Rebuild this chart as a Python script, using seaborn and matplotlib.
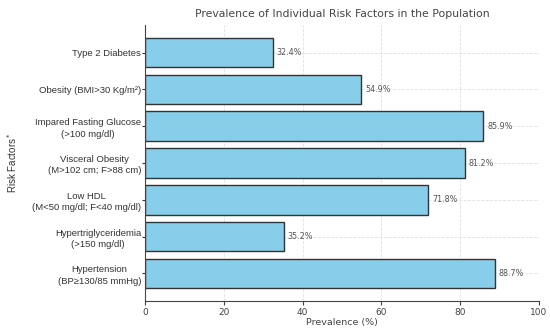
import matplotlib
matplotlib.use("Agg")
import matplotlib.pyplot as plt
import seaborn as sns
import pandas as pd

categories = [
    "Type 2 Diabetes",
    "Obesity (BMI>30 Kg/m²)",
    "Impared Fasting Glucose\n(>100 mg/dl)",
    "Visceral Obesity\n(M>102 cm; F>88 cm)",
    "Low HDL\n(M<50 mg/dl; F<40 mg/dl)",
    "Hypertriglyceridemia\n(>150 mg/dl)",
    "Hypertension\n(BP≥130/85 mmHg)",
]
prevalence = [32.4, 54.9, 85.9, 81.2, 71.8, 35.2, 88.7]
xticks = [0, 20, 40, 60, 80, 100]

df = pd.DataFrame({"factor": categories, "value": prevalence})

sns.set_theme(style="white")
plt.rcParams["font.family"] = ["DejaVu Sans"]

fig = plt.figure(figsize=(5.5, 3.29), dpi=100)
ax = fig.add_axes([0.264, 0.085, 0.716, 0.839])

sns.barplot(data=df, x="value", y="factor", color="#87CEEB", saturation=1,
            edgecolor="#333333", linewidth=1.0, width=0.8, ax=ax, zorder=2)

ax.grid(True, axis="both", linestyle="--", color="#e0e0e0", linewidth=0.6, zorder=0)
ax.set_axisbelow(True)

for i, v in enumerate(prevalence):
    ax.text(v + 1.0, i, f"{v}%", va="center", ha="left", fontsize=5.8, color="#555555")

ax.set_xlim(0, 100)
ax.set_ylim(6.75, -0.75)
ax.set_xticks(xticks)
ax.set_xticklabels([str(t) for t in xticks])
ax.tick_params(axis="x", labelsize=6.5, colors="#444444", length=3, width=0.8, bottom=True, pad=2)
ax.tick_params(axis="y", labelsize=6.8, colors="#333333", length=2, width=0.8, left=True, pad=1)
for lab in ax.get_yticklabels():
    lab.set_multialignment("center")
    lab.set_family(["Liberation Sans", "DejaVu Sans"])
    lab.set_linespacing(1.35)

ax.set_xlabel("Prevalence (%)", fontsize=6.8, color="#444444", labelpad=1)
ax.set_ylabel("Risk Factors$^*$", fontsize=7, color="#333333",
              family=["Liberation Sans", "DejaVu Sans"])
ax.yaxis.set_label_coords(-0.32, 0.5)
ax.set_title("Prevalence of Individual Risk Factors in the Population", fontsize=7.8, color="#444444", pad=6)

for s in ["top", "right"]:
    ax.spines[s].set_visible(False)
for s in ["left", "bottom"]:
    ax.spines[s].set_color("#444444")
    ax.spines[s].set_linewidth(0.8)

fig.savefig("out.png", dpi=100)
